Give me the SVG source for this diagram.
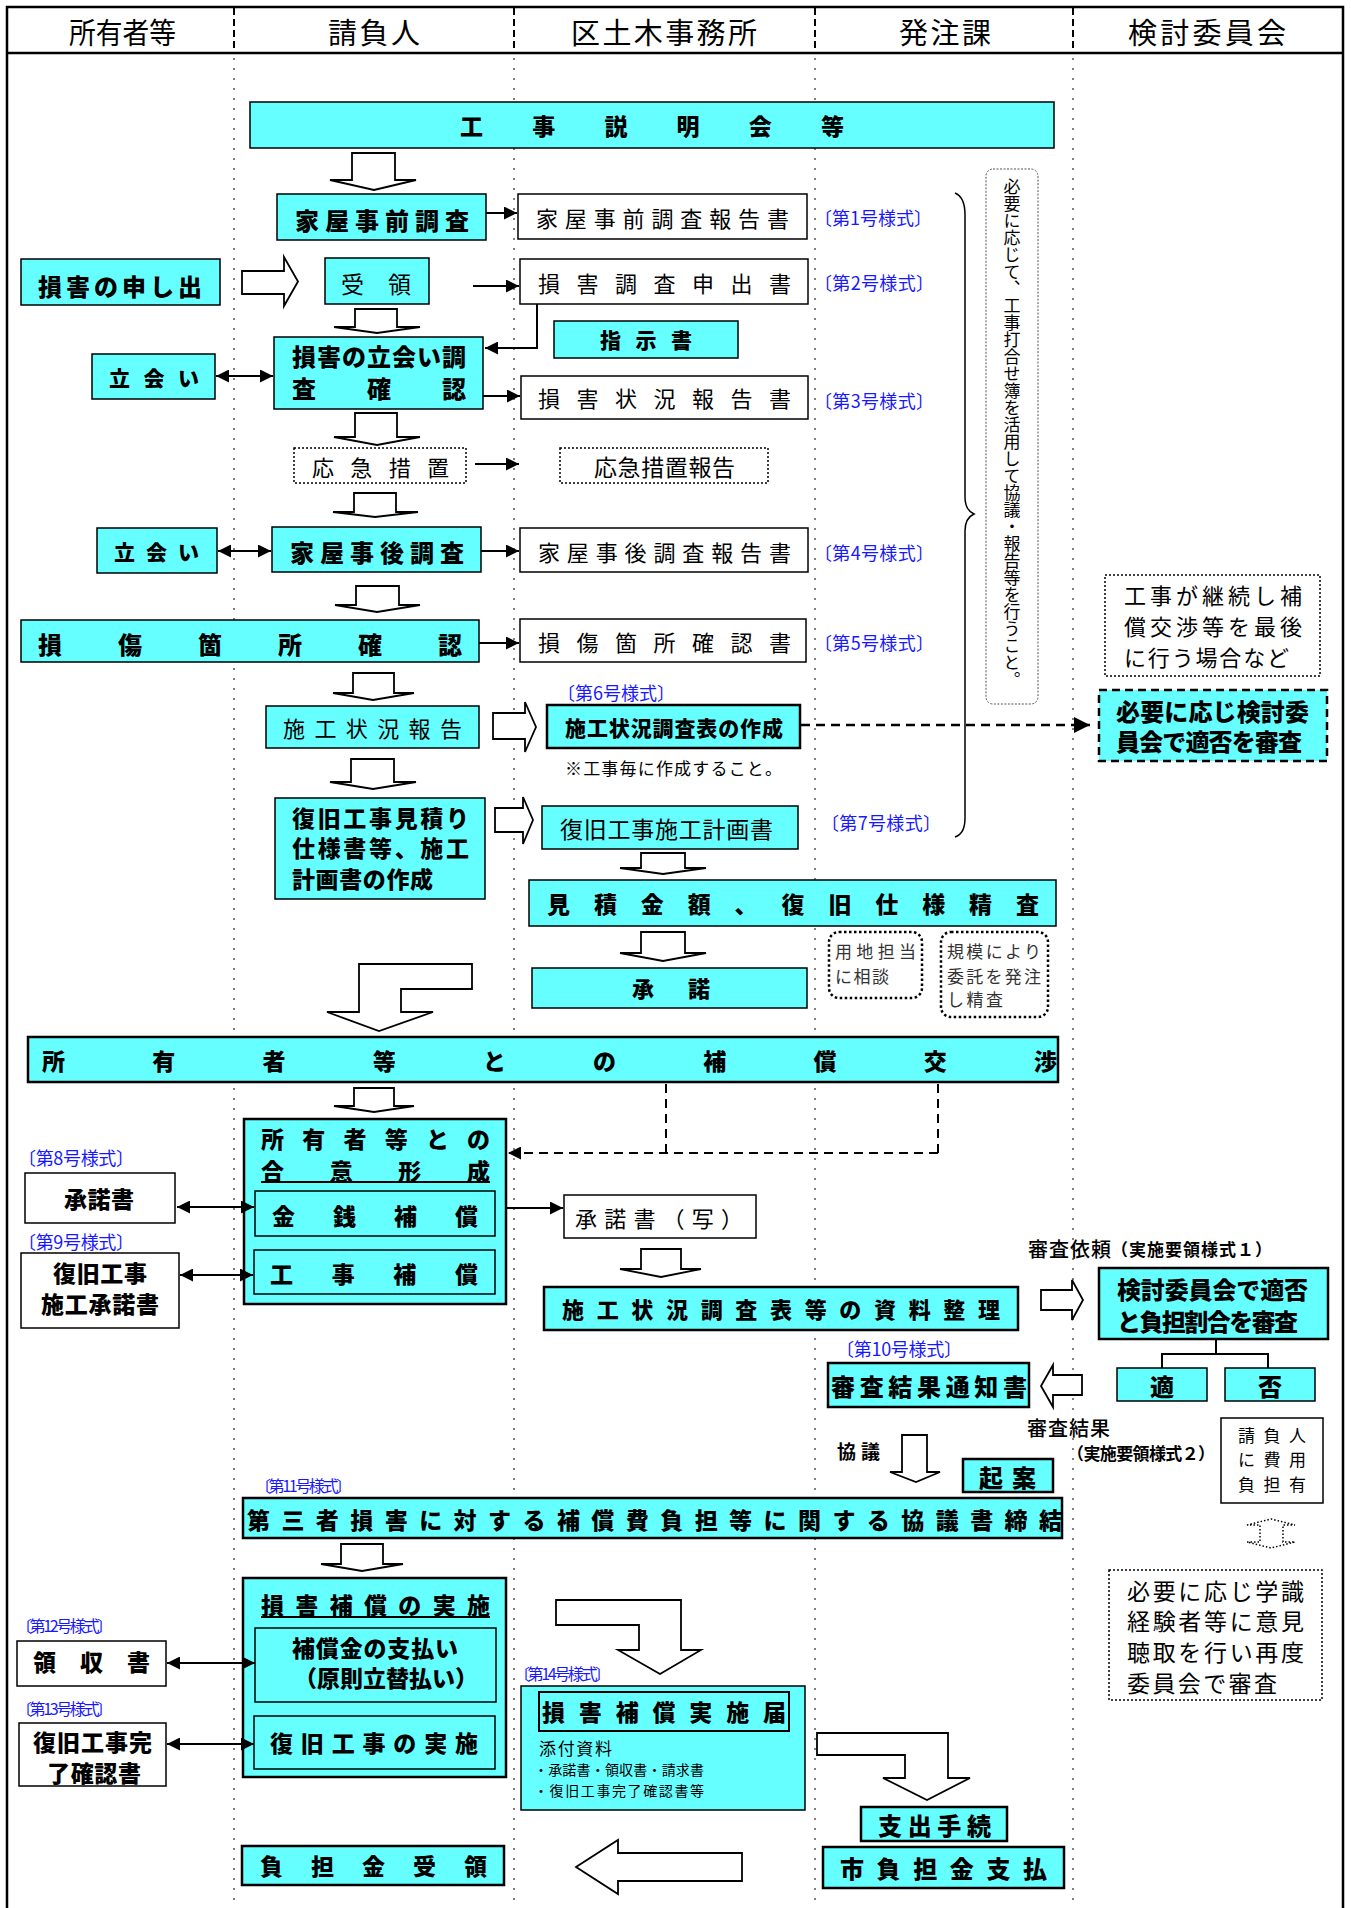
<svg xmlns="http://www.w3.org/2000/svg" width="1351" height="1908" viewBox="0 0 1351 1908">
<style>
.t{font-family:"Noto Sans CJK JP","Noto Sans",sans-serif;dominant-baseline:central;fill:#000}
.b{font-weight:900;font-size:23px}
.n{font-weight:400;font-size:22px}
.bl{font-weight:400;font-size:18px;fill:#1818ff}
.sm{font-weight:400;font-size:16px;fill:#1818ff}
.cy{fill:#66FFFF;stroke:#000;stroke-width:1.5}
.cyt{fill:#66FFFF;stroke:#000;stroke-width:2.5}
.wb{fill:#fff;stroke:#000;stroke-width:1.5}
.dot{fill:#fff;stroke:#000;stroke-width:1.5;stroke-dasharray:2 2}
.rdot{fill:#fff;stroke:#000;stroke-width:2.5;stroke-dasharray:2.5 2.5}
.ba{fill:#fff;stroke:#000;stroke-width:1.8}
.ln{fill:none;stroke:#000;stroke-width:2}
.dl{fill:none;stroke:#000;stroke-width:2.5;stroke-dasharray:9 6}
.col{stroke:#555;stroke-width:1.5;stroke-dasharray:2 8}
.colh{stroke:#000;stroke-width:2;stroke-dasharray:7 4}
</style>
<defs>
<marker id="ah" viewBox="0 0 10 10" refX="10" refY="5" markerWidth="6.5" markerHeight="6.5" orient="auto-start-reverse" markerUnits="strokeWidth">
<path d="M0,0 L10,5 L0,10 z" fill="#000"/>
</marker>
</defs>
<rect x="0" y="0" width="1351" height="1908" fill="#fff"/>

<g id="frame">
<path d="M7,1908 V7 H1343 V1908" fill="none" stroke="#000" stroke-width="2.5"/>
<line x1="7" y1="53" x2="1343" y2="53" stroke="#000" stroke-width="2.5"/>
<line class="colh" x1="234" y1="8" x2="234" y2="53"/>
<line class="colh" x1="514" y1="8" x2="514" y2="53"/>
<line class="colh" x1="815" y1="8" x2="815" y2="53"/>
<line class="colh" x1="1073" y1="8" x2="1073" y2="53"/>
<line class="col" x1="234" y1="58" x2="234" y2="1900"/>
<line class="col" x1="514" y1="58" x2="514" y2="1900"/>
<line class="col" x1="815" y1="58" x2="815" y2="1900"/>
<line class="col" x1="1073" y1="58" x2="1073" y2="1900"/>
<text class="t n" style="font-size:29px" x="69" y="31" textLength="107" lengthAdjust="spacingAndGlyphs">所有者等</text>
<text class="t n" style="font-size:29px" x="328" y="31" textLength="92">請負人</text>
<text class="t n" style="font-size:29px" x="571" y="31" textLength="186">区土木事務所</text>
<text class="t n" style="font-size:29px" x="899" y="31" textLength="92">発注課</text>
<text class="t n" style="font-size:29px" x="1128" y="31" textLength="158">検討委員会</text>
</g>

<g id="n_koji_setsumei"><rect class="cy" x="250" y="102" width="804" height="46"/>
<text class="t b" x="460" y="125" textLength="384">工事説明会等</text></g>

<g id="n_kaoku_jizen"><rect class="cy" x="277" y="194" width="209" height="46"/>
<text class="t b" style="font-size:24px" x="295" y="219" textLength="174">家屋事前調査</text></g>
<g id="n_kaoku_jizen_rep"><rect class="wb" x="518" y="194" width="289" height="45"/>
<text class="t n" x="536" y="217" textLength="253">家屋事前調査報告書</text></g>
<text class="t bl" x="814" y="217" textLength="118">〔第1号様式〕</text>

<g id="n_songai_moushide"><rect class="cy" x="21" y="259" width="199" height="46"/>
<text class="t b" style="font-size:24px" x="38" y="285" textLength="164">損害の申し出</text></g>
<g id="n_juryo"><rect class="cy" x="325" y="258" width="104" height="46"/>
<text class="t n" style="font-size:23px" x="341" y="283" textLength="70">受領</text></g>
<g id="n_songai_chosa"><rect class="wb" x="520" y="259" width="288" height="45"/>
<text class="t n" x="538" y="282" textLength="253">損害調査申出書</text></g>
<text class="t bl" x="814" y="282" textLength="120">〔第2号様式〕</text>

<g id="n_shiji"><rect class="cy" x="554" y="321" width="184" height="37"/>
<text class="t b" style="font-size:21px" x="600" y="339" textLength="92">指示書</text></g>

<g id="n_tachiai_chosa"><rect class="cy" x="274" y="337" width="209" height="72"/>
<text class="t b" style="font-size:24px" x="292" y="355" textLength="174">損害の立会い調</text>
<text class="t b" style="font-size:24px" x="292" y="387" textLength="174">査確認</text></g>
<g id="n_tachiai1"><rect class="cy" x="92" y="354" width="123" height="45"/>
<text class="t b" style="font-size:21px" x="109" y="377" textLength="90">立会い</text></g>
<g id="n_songai_jokyo"><rect class="wb" x="521" y="376" width="287" height="43"/>
<text class="t n" x="538" y="397" textLength="253">損害状況報告書</text></g>
<text class="t bl" x="814" y="400" textLength="120">〔第3号様式〕</text>

<g id="n_okyu"><rect class="dot" x="294" y="448" width="172" height="35"/>
<text class="t n" x="312" y="466" textLength="137">応急措置</text></g>
<g id="n_okyu_rep"><rect class="dot" x="560" y="448" width="208" height="35"/>
<text class="t n" style="font-size:23px" x="594" y="466" textLength="141">応急措置報告</text></g>

<g id="n_tachiai2"><rect class="cy" x="97" y="528" width="120" height="45"/>
<text class="t b" style="font-size:21px" x="114" y="551" textLength="85">立会い</text></g>
<g id="n_kaoku_jigo"><rect class="cy" x="272" y="527" width="209" height="45"/>
<text class="t b" style="font-size:24px" x="290" y="551" textLength="174">家屋事後調査</text></g>
<g id="n_kaoku_jigo_rep"><rect class="wb" x="520" y="528" width="288" height="44"/>
<text class="t n" x="538" y="551" textLength="253">家屋事後調査報告書</text></g>
<text class="t bl" x="814" y="552" textLength="120">〔第4号様式〕</text>

<g id="n_sonsho"><rect class="cy" x="21" y="620" width="458" height="42"/>
<text class="t b" style="font-size:24px" x="38" y="643" textLength="424">損傷箇所確認</text></g>
<g id="n_sonsho_rep"><rect class="wb" x="520" y="619" width="286" height="43"/>
<text class="t n" x="538" y="641" textLength="253">損傷箇所確認書</text></g>
<text class="t bl" x="814" y="642" textLength="120">〔第5号様式〕</text>

<text class="t bl" x="557" y="692" textLength="118">〔第6号様式〕</text>
<g id="n_seko_hokoku"><rect class="cy" x="266" y="706" width="213" height="42"/>
<text class="t n" x="283" y="727" textLength="179">施工状況報告</text></g>
<g id="n_seko_chosa"><rect class="cyt" x="547" y="705" width="253" height="43"/>
<text class="t b" style="font-size:21px" x="565" y="727" textLength="218">施工状況調査表の作成</text></g>
<text class="t n" style="font-size:17px" x="565" y="767" textLength="217">※工事毎に作成すること。</text>

<g id="n_mitsumori"><rect class="cy" x="275" y="798" width="210" height="101"/>
<text class="t b" style="font-size:23px" x="292" y="817" textLength="177">復旧工事見積り</text>
<text class="t b" style="font-size:23px" x="292" y="847" textLength="177">仕様書等、施工</text>
<text class="t b" style="font-size:23px" x="292" y="878" textLength="141">計画書の作成</text></g>
<g id="n_keikaku"><rect class="cy" x="542" y="806" width="256" height="43"/>
<text class="t n" style="font-size:23px" x="560" y="828" textLength="213">復旧工事施工計画書</text></g>
<text class="t bl" x="821" y="822" textLength="120">〔第7号様式〕</text>

<g id="n_seisa"><rect class="cy" x="529" y="880" width="527" height="46"/>
<text class="t b" x="547" y="903" textLength="492">見積金額、復旧仕様精査</text></g>

<g id="n_yochi"><rect class="rdot" x="829" y="932" width="93" height="66" rx="10"/>
<text class="t n" style="font-size:17px;fill:#333" x="835" y="950" textLength="81">用地担当</text>
<text class="t n" style="font-size:17px;fill:#333" x="835" y="975" textLength="54">に相談</text></g>
<g id="n_kibo"><rect class="rdot" x="941" y="932" width="107" height="85" rx="10"/>
<text class="t n" style="font-size:17px;fill:#333" x="947" y="950" textLength="94">規模により</text>
<text class="t n" style="font-size:17px;fill:#333" x="947" y="975" textLength="94">委託を発注</text>
<text class="t n" style="font-size:17px;fill:#333" x="947" y="998" textLength="56">し精査</text></g>

<g id="n_shodaku"><rect class="cy" x="532" y="968" width="275" height="40"/>
<text class="t b" style="font-size:22px" x="632" y="987" textLength="78">承諾</text></g>

<g id="n_kosho"><rect class="cyt" x="28" y="1037" width="1030" height="45"/>
<text class="t b" x="42" y="1060" textLength="1015">所有者等との補償交渉</text></g>

<g id="n_goi"><rect class="cyt" x="244" y="1119" width="262" height="185"/>
<text class="t b" x="261" y="1138" textLength="229">所有者等との</text>
<text class="t b" x="261" y="1170" textLength="229">合意形成</text>
<line x1="261" y1="1182" x2="490" y2="1182" stroke="#000" stroke-width="2"/>
<rect class="cy" x="255" y="1191" width="240" height="45"/>
<text class="t b" x="272" y="1215" textLength="206">金銭補償</text>
<rect class="cy" x="254" y="1250" width="241" height="44"/>
<text class="t b" x="270" y="1273" textLength="208">工事補償</text></g>

<text class="t bl" x="18" y="1157" textLength="116">〔第8号様式〕</text>
<g id="n_shodakusho"><rect class="wb" x="25" y="1173" width="150" height="50"/>
<text class="t b" x="64" y="1198" textLength="70">承諾書</text></g>
<text class="t bl" x="18" y="1241" textLength="116">〔第9号様式〕</text>
<g id="n_fukkyu_shodaku"><rect class="wb" x="21" y="1253" width="158" height="75"/>
<text class="t b" x="53" y="1272" textLength="94">復旧工事</text>
<text class="t b" x="41" y="1303" textLength="118">施工承諾書</text></g>

<g id="n_shodaku_copy"><rect class="wb" x="564" y="1195" width="192" height="43"/>
<text class="t n" x="575" y="1217" textLength="168">承諾書（写）</text></g>

<g id="n_shiryo"><rect class="cyt" x="544" y="1287" width="474" height="43"/>
<text class="t b" style="font-size:22px" x="562" y="1308" textLength="438">施工状況調査表等の資料整理</text></g>

<text class="t" style="font-size:20px;font-weight:500" x="1028" y="1248" textLength="83">審査依頼</text>
<text class="t" style="font-size:17px;font-weight:700" x="1111" y="1248" textLength="161">（実施要領様式１）</text>
<g id="n_kento2"><rect class="cyt" x="1099" y="1268" width="229" height="71"/>
<text class="t b" style="font-size:24px" x="1117" y="1288" textLength="191">検討委員会で適否</text>
<text class="t b" style="font-size:24px" x="1117" y="1320" textLength="181">と負担割合を審査</text></g>
<g id="n_teki"><rect class="cy" x="1117" y="1368" width="90" height="33"/>
<text class="t b" style="font-size:24px" x="1162" y="1385" text-anchor="middle">適</text></g>
<g id="n_hi"><rect class="cy" x="1225" y="1368" width="90" height="33"/>
<text class="t b" style="font-size:24px" x="1270" y="1385" text-anchor="middle">否</text></g>

<text class="t bl" x="836" y="1348" textLength="126">〔第10号様式〕</text>
<g id="n_tsuchi"><rect class="cyt" x="828" y="1363" width="201" height="44"/>
<text class="t b" style="font-size:24px" x="831" y="1385" textLength="196">審査結果通知書</text></g>

<text class="t" style="font-size:20px;font-weight:500" x="1027" y="1427" textLength="83">審査結果</text>
<text class="t" style="font-size:17px;font-weight:700" x="1067" y="1452" textLength="148">（実施要領様式２）</text>
<text class="t" style="font-size:19px;font-weight:700" x="837" y="1450" textLength="43">協議</text>

<g id="n_futan_ari"><rect class="wb" x="1221" y="1418" width="102" height="85"/>
<text class="t n" style="font-size:17px" x="1238" y="1434" textLength="68">請負人</text>
<text class="t n" style="font-size:17px" x="1238" y="1458" textLength="68">に費用</text>
<text class="t n" style="font-size:17px" x="1238" y="1483" textLength="68">負担有</text></g>

<g id="n_kian"><rect class="cyt" x="963" y="1459" width="90" height="33"/>
<text class="t b" style="font-size:24px" x="979" y="1476" textLength="57">起案</text></g>

<text class="t sm" x="255" y="1485" textLength="97">〔第11号様式〕</text>
<g id="n_daisansha"><rect class="cyt" x="243" y="1498" width="819" height="40"/>
<text class="t b" x="247" y="1519" textLength="815">第三者損害に対する補償費負担等に関する協議書締結</text></g>

<g id="n_jisshi"><rect class="cyt" x="243" y="1578" width="263" height="199"/>
<text class="t b" x="261" y="1604" textLength="229">損害補償の実施</text>
<line x1="261" y1="1617" x2="490" y2="1617" stroke="#000" stroke-width="2"/>
<rect class="cy" x="255" y="1628" width="241" height="74"/>
<text class="t b" x="292" y="1647" textLength="166">補償金の支払い</text>
<text class="t b" x="386" y="1677" text-anchor="middle">（原則立替払い）</text>
<rect class="cy" x="254" y="1716" width="241" height="53"/>
<text class="t b" x="270" y="1742" textLength="208">復旧工事の実施</text></g>

<text class="t sm" x="16" y="1625" textLength="97">〔第12号様式〕</text>
<g id="n_ryoshu"><rect class="wb" x="17" y="1641" width="149" height="45"/>
<text class="t b" x="33" y="1661" textLength="117">領収書</text></g>
<text class="t sm" x="16" y="1708" textLength="97">〔第13号様式〕</text>
<g id="n_kanryo"><rect class="wb" x="19" y="1723" width="147" height="63"/>
<text class="t b" x="33" y="1741" textLength="119">復旧工事完</text>
<text class="t b" x="47" y="1772" textLength="94">了確認書</text></g>

<text class="t sm" x="514" y="1673" textLength="97">〔第14号様式〕</text>
<g id="n_todoke"><rect class="cy" x="521" y="1686" width="284" height="124"/>
<rect x="539" y="1692" width="250" height="39" fill="#66FFFF" stroke="#000" stroke-width="2"/>
<text class="t b" x="542" y="1711" textLength="244">損害補償実施届</text>
<text class="t n" style="font-size:17px" x="539" y="1747" textLength="73">添付資料</text>
<text class="t n" style="font-size:14px" x="534" y="1769" textLength="170">・承諾書・領収書・請求書</text>
<text class="t n" style="font-size:14px" x="534" y="1790" textLength="170">・復旧工事完了確認書等</text></g>

<g id="n_futankin"><rect class="cyt" x="242" y="1846" width="262" height="39"/>
<text class="t b" x="260" y="1865" textLength="227">負担金受領</text></g>
<g id="n_shishutsu"><rect class="cyt" x="861" y="1807" width="146" height="34"/>
<text class="t b" style="font-size:24px" x="878" y="1824" textLength="113">支出手続</text></g>
<g id="n_shiharai"><rect class="cyt" x="823" y="1847" width="241" height="41"/>
<text class="t b" style="font-size:24px" x="840" y="1867" textLength="207">市負担金支払</text></g>

<g id="n_vertical"><rect x="986" y="169" width="52" height="535" rx="7" fill="#fff" stroke="#555" stroke-width="1" stroke-dasharray="2 1.5"/>
<text class="t n" style="font-size:17px;writing-mode:vertical-rl;dominant-baseline:auto" x="1012" y="178">必要に応じて、工事打合せ簿を活用して協議・報告等を行うこと。</text></g>

<g id="n_keizoku"><rect class="dot" x="1105" y="575" width="215" height="101"/>
<text class="t n" style="font-size:22px" x="1124" y="594" textLength="178">工事が継続し補</text>
<text class="t n" style="font-size:22px" x="1124" y="625" textLength="178">償交渉等を最後</text>
<text class="t n" style="font-size:22px" x="1124" y="656" textLength="165">に行う場合など</text></g>
<g id="n_kento1"><rect x="1099" y="690" width="228" height="71" fill="#66FFFF" stroke="#000" stroke-width="2.5" stroke-dasharray="8 5"/>
<text class="t b" style="font-size:24px" x="1116" y="710" textLength="193">必要に応じ検討委</text>
<text class="t b" style="font-size:24px" x="1116" y="740" textLength="186">員会で適否を審査</text></g>

<g id="n_gakushiki"><rect class="dot" x="1109" y="1570" width="213" height="130" stroke="#444"/>
<text class="t n" style="font-size:23px" x="1127" y="1590" textLength="177">必要に応じ学識</text>
<text class="t n" style="font-size:23px" x="1127" y="1620" textLength="177">経験者等に意見</text>
<text class="t n" style="font-size:23px" x="1127" y="1651" textLength="177">聴取を行い再度</text>
<text class="t n" style="font-size:23px" x="1127" y="1682" textLength="150">委員会で審査</text></g>

<g id="connectors">
<path class="ba" d="M352,153 H395 V180 H416 L374,190 L330,180 H352 Z"/>
<path class="ba" d="M355,309 H397 V327 H420 L377,333 L334,327 H355 Z"/>
<path class="ba" d="M355,413 H397 V437 H420 L377,445 L334,437 H355 Z"/>
<path class="ba" d="M354,493 H396 V512 H418 L375,517 L333,512 H354 Z"/>
<path class="ba" d="M356,586 H399 V605 H420 L377,612 L335,605 H356 Z"/>
<path class="ba" d="M353,673 H394 V693 H414 L373,700 L333,693 H353 Z"/>
<path class="ba" d="M351,759 H394 V782 H416 L373,789 L330,782 H351 Z"/>
<path class="ba" d="M641,853 H685 V868 H706 L663,874 L620,868 H641 Z"/>
<path class="ba" d="M641,932 H685 V953 H706 L663,961 L620,953 H641 Z"/>
<path class="ba" d="M354,1088 H394 V1106 H414 L374,1112 L334,1106 H354 Z"/>
<path class="ba" d="M641,1249 H681 V1269 H701 L661,1277 L620,1269 H641 Z"/>
<path class="ba" d="M341,1544 H383 V1564 H403 L362,1571 L321,1564 H341 Z"/>
<path class="ba" d="M902,1435 H927 V1472 H940 L916,1482 L890,1472 H902 Z"/>
<path class="ba" d="M359,964 H472 V989 H401 V1012 H433 L379,1031 L327,1012 H359 Z"/>
<path class="ba" d="M556,1600 H681 V1650 H701 L660,1674 L618,1650 H639 V1625 H556 Z"/>
<path class="ba" d="M817,1733 H948 V1778 H970 L927,1800 L883,1778 H905 V1755 H817 Z"/>
<path class="ba" d="M242,271 H284 V257 L298,281.5 L284,306 V294 H242 Z"/>
<path class="ba" d="M493,713 H525 V702 L536,727 L525,752 V739 H493 Z"/>
<path class="ba" d="M495,808 H523 V797 L533,820 L523,844 V832 H495 Z"/>
<path class="ba" d="M1041,1290 H1072 V1280 L1083,1300 L1072,1320 V1310 H1041 Z"/>
<path class="ba" d="M1082,1375 H1053 V1365 L1041,1386 L1053,1407 V1395 H1082 Z"/>
<path class="ba" d="M742,1853 H618 V1840 L576,1867 L618,1894 V1881 H742 Z"/>
<path d="M1247,1525 L1271,1519 L1295,1525 H1283 V1542 H1295 L1271,1548 L1247,1542 H1260 V1525 Z" fill="none" stroke="#000" stroke-width="1.5" stroke-dasharray="1.5 2"/>

<line class="ln" x1="486" y1="213" x2="517" y2="213" marker-end="url(#ah)"/>
<line class="ln" x1="473" y1="286" x2="519" y2="286" marker-end="url(#ah)"/>
<polyline class="ln" points="537,304 537,348 485,348" marker-end="url(#ah)"/>
<line class="ln" x1="216" y1="376" x2="273" y2="376" marker-start="url(#ah)" marker-end="url(#ah)"/>
<line class="ln" x1="483" y1="396" x2="520" y2="396" marker-end="url(#ah)"/>
<line class="ln" x1="475" y1="464" x2="519" y2="464" marker-end="url(#ah)"/>
<line class="ln" x1="218" y1="551" x2="271" y2="551" marker-start="url(#ah)" marker-end="url(#ah)"/>
<line class="ln" x1="481" y1="551" x2="519" y2="551" marker-end="url(#ah)"/>
<line class="ln" x1="479" y1="643" x2="519" y2="643" marker-end="url(#ah)"/>
<line class="dl" x1="801" y1="725" x2="1090" y2="725" marker-end="url(#ah)"/>
<line class="ln" x1="666" y1="1084" x2="666" y2="1153" stroke-dasharray="9 6"/>
<line class="ln" x1="938" y1="1084" x2="938" y2="1153" stroke-dasharray="9 6"/>
<line class="ln" x1="938" y1="1153" x2="508" y2="1153" stroke-dasharray="9 6" marker-end="url(#ah)"/>
<line class="ln" x1="177" y1="1207" x2="254" y2="1207" marker-start="url(#ah)" marker-end="url(#ah)"/>
<line class="ln" x1="180" y1="1275" x2="253" y2="1275" marker-start="url(#ah)" marker-end="url(#ah)"/>
<line class="ln" x1="507" y1="1208" x2="563" y2="1208" marker-end="url(#ah)"/>
<polyline class="ln" points="1216,1339 1216,1354"/>
<polyline class="ln" points="1162,1368 1162,1354 1268,1354 1268,1368"/>
<line class="ln" x1="167" y1="1663" x2="255" y2="1663" marker-start="url(#ah)" marker-end="url(#ah)"/>
<line class="ln" x1="167" y1="1744" x2="254" y2="1744" marker-start="url(#ah)" marker-end="url(#ah)"/>
<path d="M955,193 Q965,197 965,215 L965,497 Q965,510 974,514 Q965,518 965,531 L965,818 Q965,834 955,837" fill="none" stroke="#000" stroke-width="1.5"/>
</g>
</svg>
